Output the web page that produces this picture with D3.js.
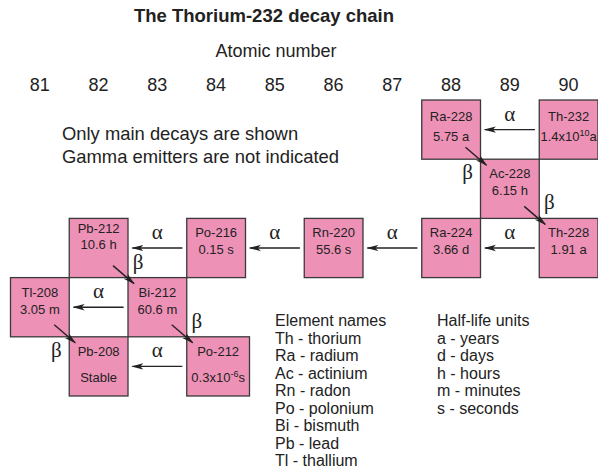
<!DOCTYPE html>
<html>
<head>
<meta charset="utf-8">
<script src="https://cdn.jsdelivr.net/npm/d3@7"></script>
<style>
  body { margin: 0; background: #fff; }
  svg { font-family: "Liberation Sans", Arial, Helvetica, sans-serif; }
  .greek { font-family: "Liberation Serif", "Times New Roman", serif; }
</style>
</head>
<body>
<svg id="chart" width="598" height="471"></svg>
<script>
// данные
const atomicNumbers = [81, 82, 83, 84, 85, 86, 87, 88, 89, 90];
const nuclides = ["Th-232", "Ra-228", "Ac-228", "Th-228", "Ra-224", "Rn-220", "Po-216", "Pb-212", "Bi-212", "Po-212", "Tl-208", "Pb-208"];
const protons  = [90, 88, 89, 90, 88, 86, 84, 82, 83, 84, 81, 82];
const levels   = [0, 0, 1, 2, 2, 2, 2, 2, 3, 4, 3, 4];
const halfLives = ["1.4x10^10a", "5.75 a", "6.15 h", "1.91 a", "3.66 d", "55.6 s", "0.15 s", "10.6 h", "60.6 m", "0.3x10^-6s", "3.05 m", "Stable"];

const alphaDecays = [["Th-232", "Ra-228"], ["Th-228", "Ra-224"], ["Ra-224", "Rn-220"], ["Rn-220", "Po-216"], ["Po-216", "Pb-212"], ["Bi-212", "Tl-208"], ["Po-212", "Pb-208"]];
const betaDecays = [["Ra-228", "Ac-228"], ["Ac-228", "Th-228"], ["Pb-212", "Bi-212"], ["Tl-208", "Pb-208"], ["Bi-212", "Po-212"]];

const elementNames = ["Th - thorium", "Ra - radium", "Ac - actinium", "Rn - radon", "Po - polonium", "Bi - bismuth", "Pb - lead", "Tl - thallium"];
const halfLifeUnits = ["a - years", "d - days", "h - hours", "m - minutes", "s - seconds"];

// собираем узлы
let nodes = nuclides.map((n, i) => ({ name: n, z: protons[i], level: levels[i], half: halfLives[i] }));
let byName = {};
nodes.forEach(d => byName[d.name] = d);

let svg = d3.select("#chart");
let ink = "#222";

// шкалы
let scaleX = d3.scaleBand()
    .domain(atomicNumbers)
    .range([10.5, 598]);
let scaleY = d3.scaleBand()
    .domain([0, 1, 2, 3, 4])
    .range([100, 396]);
let bw = scaleX.bandwidth();
let bh = scaleY.bandwidth();

// заголовки
svg.append("text")
    .attr("x", 264).attr("y", 22)
    .attr("text-anchor", "middle")
    .style("font-size", "18.5px").style("font-weight", "bold")
    .attr("fill", ink)
    .text("The Thorium-232 decay chain");

svg.append("text")
    .attr("x", 276).attr("y", 57)
    .attr("text-anchor", "middle")
    .style("font-size", "18px")
    .attr("fill", ink)
    .text("Atomic number");

// ось с атомными номерами
let axisX = d3.axisTop(scaleX).tickSize(0).tickPadding(9.5);
let gAxis = svg.append("g")
    .attr("transform", "translate(0, 100)")
    .call(axisX);
gAxis.select(".domain").remove();
gAxis.selectAll("text")
    .style("font-size", "18px")
    .style("font-family", "Liberation Sans, Arial, sans-serif")
    .attr("fill", ink);

// примечания
svg.append("text")
    .attr("x", 62).attr("y", 140)
    .style("font-size", "18.4px").attr("fill", ink)
    .text("Only main decays are shown");
svg.append("text")
    .attr("x", 62).attr("y", 163)
    .style("font-size", "18.4px").attr("fill", ink)
    .text("Gamma emitters are not indicated");

// маркер стрелки
svg.append("defs").append("marker")
    .attr("id", "head")
    .attr("viewBox", "0 -5 12 10")
    .attr("refX", 11).attr("refY", 0)
    .attr("markerUnits", "userSpaceOnUse")
    .attr("markerWidth", 12).attr("markerHeight", 10)
    .attr("orient", "auto")
    .append("path")
    .attr("d", "M0,-3.2 L12,0 L0,3.2 L3,0 Z")
    .attr("fill", ink);

// квадраты (Po-212 чуть шире, чтобы влез период полураспада)
let extraWidth = { "Po-212": 4 };
svg.selectAll("rect.box")
    .data(nodes)
    .enter()
    .append("rect")
    .attr("class", "box")
    .attr("x", d => scaleX(d.z))
    .attr("y", d => scaleY(d.level))
    .attr("width", d => bw + (extraWidth[d.name] || 0))
    .attr("height", bh)
    .attr("fill", "#ee91b6")
    .attr("stroke", "#3a3a3a")
    .attr("stroke-width", 1.3);

// смещения подписей внутри квадратов
let textOffsets = { "Ra-228": [21, 41], "Th-232": [21, 41], "Pb-208": [19, 45], "Po-212": [19, 45], "Pb-212": [15, 31] };

let labels = svg.selectAll("g.lbl")
    .data(nodes)
    .enter()
    .append("g")
    .attr("class", "lbl")
    .attr("transform", d => `translate(${scaleX(d.z) + (bw + (extraWidth[d.name] || 0)) / 2}, ${scaleY(d.level)})`)
    .style("font-size", "13px")
    .attr("fill", ink)
    .attr("text-anchor", "middle");

labels.append("text")
    .attr("y", d => (textOffsets[d.name] || [19, 36])[0])
    .text(d => d.name);

labels.append("text")
    .attr("y", d => (textOffsets[d.name] || [19, 36])[1])
    .each(function (d) {
        let t = d3.select(this);
        let m = d.half.match(/^(.*)\^(-?\d+)(.*)$/);
        if (m) {
            t.append("tspan").text(m[1]);
            t.append("tspan").attr("dy", -5).style("font-size", "9px").text(m[2]);
            t.append("tspan").attr("dy", 5).text(m[3]);
        } else {
            t.text(d.half);
        }
    });

// альфа-распады
alphaDecays.forEach(function (p) {
    let a = byName[p[0]], b = byName[p[1]];
    let left = scaleX(b.z) + bw;
    let right = scaleX(a.z);
    let cx = (left + right) / 2;
    let cy = scaleY(a.level) + bh / 2;
    svg.append("line")
        .attr("x1", cx + 25).attr("y1", cy)
        .attr("x2", cx - 25).attr("y2", cy)
        .attr("stroke", ink).attr("stroke-width", 1.4)
        .attr("marker-end", "url(#head)");
    svg.append("text")
        .attr("class", "greek")
        .attr("x", cx).attr("y", cy - 9)
        .attr("text-anchor", "middle")
        .style("font-size", "21px")
        .attr("fill", ink)
        .text("\u03B1");
});

// бета-распады
let betaLeft = ["Ac-228", "Pb-208"];
betaDecays.forEach(function (p) {
    let b = byName[p[1]];
    let cx = scaleX(b.z);
    let cy = scaleY(b.level);
    svg.append("line")
        .attr("x1", cx - 15).attr("y1", cy - 12)
        .attr("x2", cx + 6).attr("y2", cy + 6)
        .attr("stroke", ink).attr("stroke-width", 1.4)
        .attr("marker-end", "url(#head)");
    let onLeft = betaLeft.indexOf(b.name) >= 0;
    svg.append("text")
        .attr("class", "greek")
        .attr("x", onLeft ? cx - 13 : cx + 10)
        .attr("y", onLeft ? cy + 20 : cy - 9)
        .attr("text-anchor", "middle")
        .style("font-size", "21px")
        .attr("fill", ink)
        .text("\u03B2");
});

// легенда
let gNames = svg.append("g")
    .style("font-size", "16px").attr("fill", ink);
gNames.selectAll("text")
    .data(["Element names"].concat(elementNames))
    .enter()
    .append("text")
    .attr("x", 275)
    .attr("y", (d, i) => 326 + i * 17.5)
    .text(d => d);

let gUnits = svg.append("g")
    .style("font-size", "16px").attr("fill", ink);
gUnits.selectAll("text")
    .data(["Half-life units"].concat(halfLifeUnits))
    .enter()
    .append("text")
    .attr("x", 437)
    .attr("y", (d, i) => 326 + i * 17.5)
    .text(d => d);
</script>
</body>
</html>
